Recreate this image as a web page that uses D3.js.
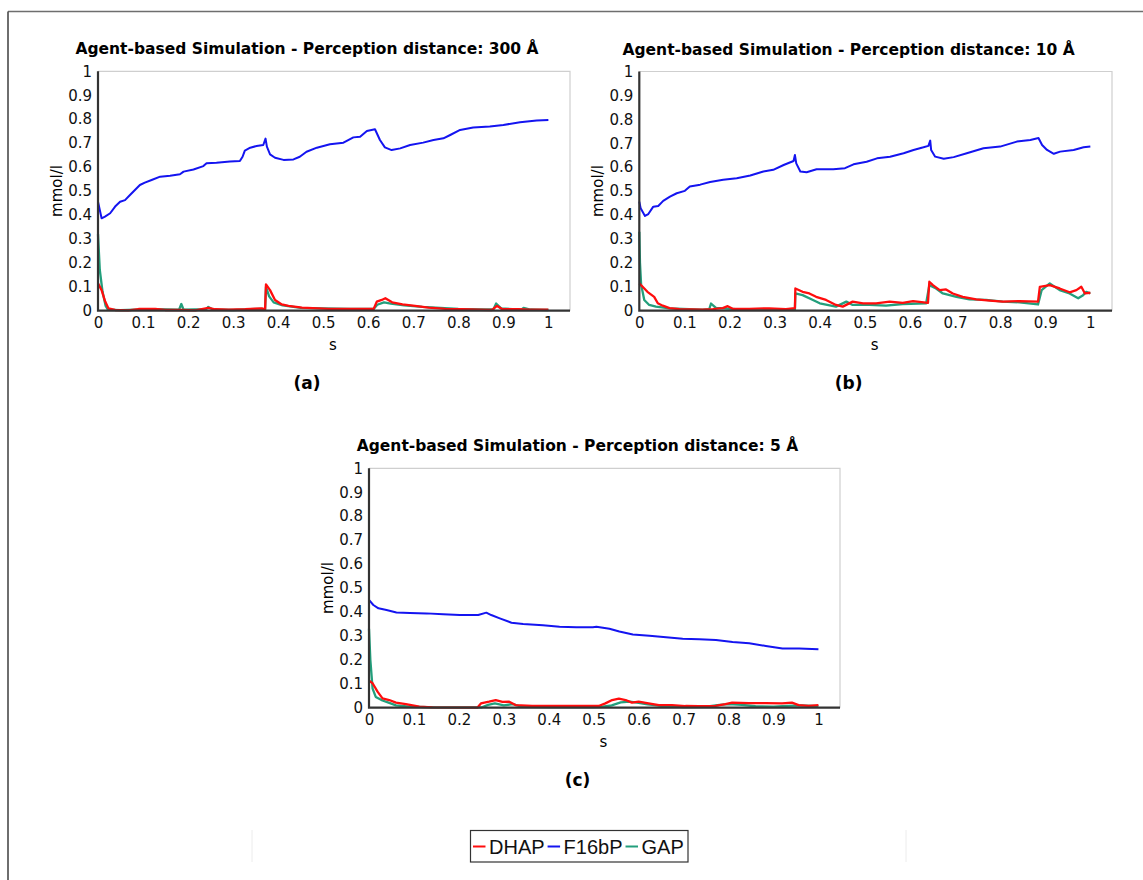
<!DOCTYPE html>
<html>
<head>
<meta charset="utf-8">
<script src="https://cdn.jsdelivr.net/npm/d3@7"></script>
<style>
  body { margin: 0; background: #fff; }
  svg { display: block; }
</style>
</head>
<body>
<svg id="chart" width="1143" height="880"></svg>
<script>
// ---- tick labels and text ----
const xTicks = [0, 0.1, 0.2, 0.3, 0.4, 0.5, 0.6, 0.7, 0.8, 0.9, 1];
const yTicks = [0, 0.1, 0.2, 0.3, 0.4, 0.5, 0.6, 0.7, 0.8, 0.9, 1];
const panelTitles = [
  "Agent-based Simulation - Perception distance: 300 Å",
  "Agent-based Simulation - Perception distance: 10 Å",
  "Agent-based Simulation - Perception distance: 5 Å"
];
const panelTags = ["(a)", "(b)", "(c)"];
const seriesNames = ["DHAP", "F16bP", "GAP"];

// ---- series values: [time (s), concentration (mmol/l)] ----
// Panel (a): perception distance 300 Å
const a_F16bP = [[0,0.455],[0.008,0.386],[0.0155,0.393],[0.027,0.407],[0.038,0.435],[0.049,0.455],[0.06,0.462],[0.071,0.483],[0.082,0.504],[0.093,0.525],[0.104,0.535],[0.119,0.546],[0.138,0.56],[0.16,0.564],[0.182,0.57],[0.19,0.581],[0.212,0.59],[0.234,0.604],[0.241,0.616],[0.263,0.618],[0.293,0.623],[0.315,0.625],[0.321,0.643],[0.326,0.669],[0.338,0.681],[0.352,0.688],[0.367,0.692],[0.372,0.719],[0.375,0.685],[0.382,0.653],[0.393,0.639],[0.412,0.63],[0.434,0.632],[0.448,0.643],[0.463,0.664],[0.486,0.681],[0.515,0.695],[0.545,0.702],[0.567,0.724],[0.582,0.727],[0.597,0.751],[0.615,0.758],[0.626,0.713],[0.637,0.682],[0.652,0.671],[0.671,0.678],[0.693,0.692],[0.722,0.702],[0.745,0.713],[0.767,0.72],[0.782,0.734],[0.804,0.755],[0.833,0.765],[0.87,0.769],[0.9,0.776],[0.937,0.787],[0.974,0.794],[1,0.797]];
const a_DHAP = [[0,0.114],[0.008,0.086],[0.016,0.038],[0.023,0.01],[0.038,0.003],[0.067,0.001],[0.09,0.007],[0.127,0.008],[0.149,0.003],[0.186,0.003],[0.216,0.001],[0.245,0.012],[0.26,0.006],[0.29,0.004],[0.327,0.006],[0.364,0.01],[0.371,0.006],[0.373,0.11],[0.382,0.086],[0.393,0.045],[0.408,0.026],[0.423,0.02],[0.453,0.013],[0.512,0.008],[0.571,0.007],[0.612,0.007],[0.619,0.038],[0.63,0.045],[0.638,0.052],[0.653,0.035],[0.676,0.026],[0.704,0.02],[0.734,0.013],[0.771,0.008],[0.807,0.006],[0.845,0.004],[0.875,0.003],[0.886,0.02],[0.897,0.007],[0.934,0.006],[0.956,0.004],[1,0.004]];
const a_GAP = [[0,0.32],[0.004,0.17],[0.01,0.08],[0.017,0.02],[0.022,0.004],[0.05,0.002],[0.1,0.005],[0.13,0.006],[0.18,0.004],[0.185,0.028],[0.19,0.004],[0.24,0.006],[0.245,0.016],[0.255,0.005],[0.3,0.003],[0.36,0.008],[0.371,0.005],[0.373,0.1],[0.38,0.06],[0.39,0.035],[0.41,0.022],[0.45,0.012],[0.5,0.01],[0.56,0.008],[0.612,0.007],[0.62,0.025],[0.635,0.035],[0.65,0.03],[0.68,0.022],[0.72,0.016],[0.76,0.012],[0.8,0.008],[0.86,0.005],[0.878,0.006],[0.884,0.03],[0.895,0.01],[0.94,0.004],[0.945,0.012],[0.96,0.005],[1,0.003]];

// Panel (b): perception distance 10 Å
const b_F16bP = [[0,0.456],[0.003,0.428],[0.0126,0.396],[0.02,0.404],[0.031,0.435],[0.042,0.438],[0.053,0.459],[0.068,0.477],[0.083,0.491],[0.101,0.501],[0.112,0.519],[0.135,0.527],[0.157,0.538],[0.186,0.547],[0.216,0.554],[0.246,0.565],[0.275,0.582],[0.297,0.589],[0.32,0.609],[0.342,0.626],[0.345,0.651],[0.348,0.616],[0.357,0.582],[0.371,0.579],[0.393,0.591],[0.43,0.591],[0.456,0.596],[0.475,0.612],[0.504,0.623],[0.527,0.637],[0.556,0.644],[0.586,0.658],[0.608,0.672],[0.63,0.683],[0.641,0.689],[0.645,0.711],[0.647,0.672],[0.656,0.644],[0.675,0.635],[0.697,0.642],[0.726,0.658],[0.763,0.679],[0.8,0.686],[0.837,0.707],[0.867,0.714],[0.885,0.722],[0.893,0.693],[0.904,0.672],[0.919,0.656],[0.933,0.665],[0.963,0.672],[0.985,0.683],[1,0.686]];
const b_DHAP = [[0,0.114],[0.0074,0.1],[0.018,0.079],[0.033,0.058],[0.041,0.031],[0.052,0.021],[0.067,0.011],[0.089,0.007],[0.14,0.004],[0.163,0.007],[0.185,0.011],[0.196,0.019],[0.207,0.008],[0.244,0.008],[0.288,0.01],[0.325,0.007],[0.34,0.01],[0.345,0.01],[0.346,0.093],[0.362,0.079],[0.377,0.072],[0.392,0.058],[0.414,0.045],[0.436,0.024],[0.451,0.017],[0.473,0.038],[0.496,0.031],[0.525,0.031],[0.555,0.038],[0.584,0.033],[0.607,0.04],[0.64,0.033],[0.643,0.121],[0.651,0.107],[0.666,0.086],[0.68,0.089],[0.695,0.072],[0.717,0.058],[0.747,0.047],[0.777,0.042],[0.806,0.038],[0.843,0.04],[0.884,0.038],[0.888,0.1],[0.91,0.107],[0.932,0.093],[0.954,0.077],[0.969,0.086],[0.98,0.1],[0.988,0.072],[1,0.075]];
const b_GAP = [[0,0.33],[0.0015,0.2],[0.004,0.11],[0.011,0.045],[0.022,0.024],[0.037,0.017],[0.067,0.01],[0.14,0.004],[0.155,0.006],[0.159,0.03],[0.17,0.012],[0.214,0.007],[0.288,0.004],[0.345,0.004],[0.346,0.072],[0.362,0.065],[0.385,0.045],[0.4,0.031],[0.436,0.017],[0.459,0.038],[0.473,0.024],[0.51,0.024],[0.547,0.021],[0.584,0.028],[0.636,0.031],[0.643,0.107],[0.658,0.093],[0.673,0.072],[0.703,0.058],[0.732,0.047],[0.769,0.045],[0.806,0.038],[0.843,0.035],[0.884,0.026],[0.892,0.086],[0.91,0.114],[0.932,0.086],[0.954,0.072],[0.973,0.052],[0.984,0.065],[0.991,0.079],[1,0.072]];

// Panel (c): perception distance 5 Å
const c_F16bP = [[0,0.45],[0.0096,0.429],[0.021,0.415],[0.039,0.408],[0.061,0.398],[0.091,0.396],[0.128,0.394],[0.165,0.39],[0.202,0.387],[0.243,0.387],[0.261,0.397],[0.272,0.387],[0.291,0.373],[0.317,0.355],[0.343,0.35],[0.387,0.344],[0.424,0.338],[0.461,0.336],[0.498,0.336],[0.506,0.338],[0.535,0.33],[0.557,0.318],[0.587,0.306],[0.624,0.301],[0.661,0.294],[0.698,0.288],[0.735,0.286],[0.772,0.283],[0.809,0.274],[0.846,0.269],[0.883,0.258],[0.92,0.247],[0.957,0.247],[1,0.244]];
const c_DHAP = [[0,0.113],[0.008,0.102],[0.019,0.067],[0.03,0.039],[0.045,0.032],[0.06,0.021],[0.082,0.015],[0.112,0.004],[0.141,0.0015],[0.241,0],[0.249,0.018],[0.267,0.025],[0.282,0.032],[0.297,0.024],[0.312,0.025],[0.326,0.011],[0.363,0.008],[0.4,0.007],[0.437,0.008],[0.474,0.007],[0.511,0.007],[0.526,0.018],[0.541,0.032],[0.556,0.038],[0.571,0.032],[0.585,0.021],[0.6,0.025],[0.622,0.018],[0.645,0.011],[0.674,0.011],[0.704,0.007],[0.734,0.006],[0.771,0.008],[0.793,0.015],[0.808,0.021],[0.845,0.019],[0.882,0.019],[0.919,0.018],[0.941,0.021],[0.956,0.011],[0.978,0.008],[1,0.011]];
const c_GAP = [[0,0.33],[0.003,0.2],[0.008,0.08],[0.015,0.045],[0.03,0.03],[0.045,0.02],[0.06,0.01],[0.09,0.004],[0.15,0.001],[0.25,0.001],[0.265,0.012],[0.28,0.018],[0.3,0.01],[0.32,0.015],[0.34,0.004],[0.4,0.003],[0.5,0.002],[0.52,0.004],[0.54,0.01],[0.56,0.022],[0.58,0.025],[0.6,0.02],[0.62,0.014],[0.65,0.008],[0.7,0.003],[0.75,0.004],[0.78,0.012],[0.8,0.015],[0.83,0.012],[0.86,0.006],[0.9,0.004],[0.93,0.008],[0.96,0.01],[1,0.006]];

// ---- styling ----
const colors = { DHAP: "#ff0d0d", F16bP: "#1414f0", GAP: "#239f7c" };
const tickFont = "'DejaVu Sans', Verdana, sans-serif";

const panels = [
  { title: panelTitles[0], tag: panelTags[0], left: 98,  top: 71.3, right: 570,  bottom: 310.7,
    series: { GAP: a_GAP, DHAP: a_DHAP, F16bP: a_F16bP } },
  { title: panelTitles[1], tag: panelTags[1], left: 639.3, top: 71.5, right: 1112, bottom: 310.7,
    series: { GAP: b_GAP, DHAP: b_DHAP, F16bP: b_F16bP } },
  { title: panelTitles[2], tag: panelTags[2], left: 369, top: 468.3, right: 840, bottom: 707.7,
    series: { GAP: c_GAP, DHAP: c_DHAP, F16bP: c_F16bP } }
];

const svg = d3.select("#chart");

// page frame (top and left edges)
svg.append("line").attr("x1", 8).attr("x2", 1143).attr("y1", 11.5).attr("y2", 11.5)
  .attr("stroke", "#6e6e6e").attr("stroke-width", 1.6);
svg.append("line").attr("x1", 8).attr("x2", 8).attr("y1", 11.5).attr("y2", 880)
  .attr("stroke", "#4a4a4a").attr("stroke-width", 1.6);

panels.forEach(p => {
  const x = d3.scaleLinear().domain([0, 1.048]).range([p.left, p.right]);
  const y = d3.scaleLinear().domain([0, 1]).range([p.bottom, p.top]);
  const g = svg.append("g");
  const figCenter = (p.left + p.right) / 2 - 27;

  // light frame on top and right
  g.append("path")
    .attr("d", `M${p.left},${p.top}H${p.right}V${p.bottom}`)
    .attr("fill", "none").attr("stroke", "#cfcfcf").attr("stroke-width", 1.2);

  // title
  g.append("text").attr("x", figCenter).attr("y", p.top - 17)
    .attr("text-anchor", "middle")
    .style("font-family", tickFont).style("font-weight", "bold").style("font-size", "15.5px")
    .text(p.title);

  // x axis
  const xAxis = d3.axisBottom(x).tickValues(xTicks).tickSize(0).tickPadding(7)
    .tickFormat(d3.format("~g"));
  const gx = g.append("g").attr("transform", `translate(0,${p.bottom})`).call(xAxis);
  gx.select(".domain").remove();
  gx.selectAll("text").style("font-family", tickFont).style("font-size", "15px").attr("fill", "#111");

  // y axis
  const yAxis = d3.axisLeft(y).tickValues(yTicks).tickSize(0).tickPadding(6)
    .tickFormat(d3.format("~g"));
  const gy = g.append("g").attr("transform", `translate(${p.left},0)`).call(yAxis);
  gy.select(".domain").remove();
  gy.selectAll("text").style("font-family", tickFont).style("font-size", "15px").attr("fill", "#111");

  // axis titles
  g.append("text").attr("x", (p.left + p.right) / 2 - 1).attr("y", p.bottom + 39)
    .attr("text-anchor", "middle")
    .style("font-family", tickFont).style("font-size", "15px").text("s");
  g.append("text")
    .attr("transform", `translate(${p.left - 36},${(p.top + p.bottom) / 2}) rotate(-90)`)
    .attr("text-anchor", "middle")
    .style("font-family", tickFont).style("font-size", "15px").text("mmol/l");

  // series
  const line = d3.line().x(d => x(d[0])).y(d => y(d[1]));
  ["GAP", "DHAP", "F16bP"].forEach(name => {
    g.append("path").datum(p.series[name])
      .attr("d", line)
      .attr("fill", "none")
      .attr("stroke", colors[name])
      .attr("stroke-width", name === "F16bP" ? 2 : 2.3)
      .attr("stroke-linejoin", "round");
  });

  // dark axis lines (left and bottom)
  g.append("path")
    .attr("d", `M${p.left},${p.top}V${p.bottom}H${p.right}`)
    .attr("fill", "none").attr("stroke", "#333").attr("stroke-width", 2.2);

  // sub-figure tag
  g.append("text").attr("x", figCenter).attr("y", p.bottom + 78.5)
    .attr("text-anchor", "middle")
    .style("font-family", tickFont).style("font-weight", "bold").style("font-size", "17px")
    .text(p.tag);
});

// ---- legend ----
const leg = svg.append("g");
[252, 906].forEach(xv => {
  leg.append("line").attr("x1", xv).attr("x2", xv).attr("y1", 830).attr("y2", 862)
    .attr("stroke", "#ececec").attr("stroke-width", 1);
});
leg.append("rect").attr("x", 470.5).attr("y", 830.5).attr("width", 217.5).attr("height", 31.5)
  .attr("fill", "#fff").attr("stroke", "#333").attr("stroke-width", 1.2);

let cx = 473;
seriesNames.forEach(name => {
  leg.append("line").attr("x1", cx).attr("x2", cx + 12.5).attr("y1", 846.5).attr("y2", 846.5)
    .attr("stroke", colors[name]).attr("stroke-width", 2);
  const t = leg.append("text").attr("x", cx + 16).attr("y", 854)
    .style("font-family", "'Liberation Sans', Arial, sans-serif").style("font-size", "20px")
    .attr("fill", "#111").text(name);
  cx = cx + 16 + t.node().getComputedTextLength() + 3;
});
</script>
</body>
</html>
